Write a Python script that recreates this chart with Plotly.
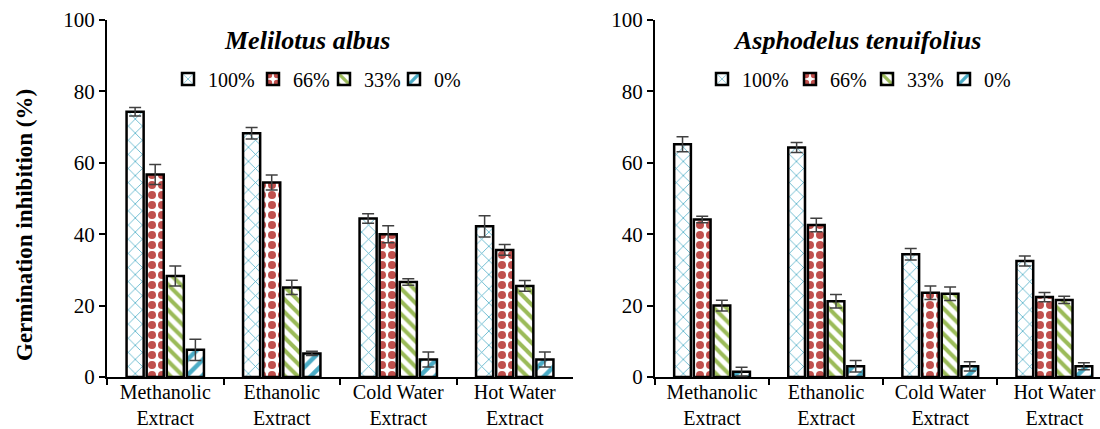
import plotly.graph_objects as go

categories = ["Methanolic<br>Extract", "Ethanolic<br>Extract", "Cold Water<br>Extract", "Hot Water<br>Extract"]
series_names = ["100%", "66%", "33%", "0%"]

# Melilotus albus
mel_100 = [74.3, 68.3, 44.4, 42.2]
mel_66 = [56.7, 54.5, 40.0, 35.6]
mel_33 = [28.3, 25.1, 26.6, 25.5]
mel_0 = [7.6, 6.6, 4.9, 4.9]
mel_100_err = [1.2, 1.6, 1.3, 3.0]
mel_66_err = [2.8, 2.1, 2.4, 1.5]
mel_33_err = [2.8, 2.0, 0.9, 1.5]
mel_0_err = [3.0, 0.6, 2.1, 2.1]

# Asphodelus tenuifolius
asp_100 = [65.2, 64.3, 34.4, 32.5]
asp_66 = [44.1, 42.6, 23.6, 22.4]
asp_33 = [20.0, 21.2, 23.3, 21.6]
asp_0 = [1.5, 3.0, 3.0, 3.0]
asp_100_err = [2.1, 1.4, 1.6, 1.4]
asp_66_err = [0.9, 1.9, 1.9, 1.3]
asp_33_err = [1.5, 1.9, 1.9, 1.0]
asp_0_err = [1.2, 1.6, 1.3, 1.0]

y_ticks = [0, 20, 40, 60, 80, 100]

SERIF = "Liberation Serif, Times New Roman, serif"
styles = [
    dict(shape="x", fg="#4BACC6", size=10, solidity=0.15),
    dict(shape=".", fg="#C0504D", size=10, solidity=0.5),
    dict(shape="\\", fg="#9BBB59", size=9, solidity=0.45),
    dict(shape="/", fg="#4BACC6", size=11, solidity=0.4),
]

# legend entry positions (left edge of each legend box, px)
legend_x_left = [168, 253, 324, 394]
legend_x_right = [702, 790, 867, 944]

fig = go.Figure()

def add_panel(values, errors, xa, ya, legend_ids):
    for name, vals, errs, st, lg in zip(series_names, values, errors, styles, legend_ids):
        fig.add_trace(go.Bar(
            x=categories, y=vals, name=name,
            xaxis=xa, yaxis=ya, legend=lg,
            marker=dict(
                color="white",
                line=dict(color="black", width=2.5),
                pattern=dict(shape=st["shape"], fgcolor=st["fg"], bgcolor="white",
                             size=st["size"], solidity=st["solidity"], fillmode="replace"),
            ),
            error_y=dict(type="data", array=errs, visible=True, color="#404040",
                         thickness=1.5, width=6),
        ))

left_ids = ["legend", "legend2", "legend3", "legend4"]
right_ids = ["legend5", "legend6", "legend7", "legend8"]

add_panel([mel_100, mel_66, mel_33, mel_0],
          [mel_100_err, mel_66_err, mel_33_err, mel_0_err], "x", "y", left_ids)
add_panel([asp_100, asp_66, asp_33, asp_0],
          [asp_100_err, asp_66_err, asp_33_err, asp_0_err], "x2", "y2", right_ids)

xaxis_common = dict(
    type="category", showline=True, linecolor="black", linewidth=2,
    ticks="outside", tickson="boundaries", ticklen=6, tickwidth=2, tickcolor="black",
    tickfont=dict(family=SERIF, size=20, color="black"), showgrid=False,
    automargin=False, ticklabelstandoff=-4,
)
yaxis_common = dict(
    range=[0, 100], tickvals=y_ticks, showline=True, linecolor="black", linewidth=2,
    ticks="outside", ticklen=6, tickwidth=2, tickcolor="black",
    tickfont=dict(family=SERIF, size=21, color="black"), showgrid=False, zeroline=False,
    automargin=False,
)

# plot area spans y pixels 20..377
def py(p):
    return (377 - p) / 357

def legend_at(px):
    return dict(
        x=px / 1100, y=py(79), orientation="h", yanchor="middle", xanchor="left",
        font=dict(family=SERIF, size=20, color="black"),
        bgcolor="rgba(0,0,0,0)", itemwidth=30,
    )

legend_layout = {}
for lid, px in zip(left_ids + right_ids, legend_x_left + legend_x_right):
    legend_layout[lid] = legend_at(px)

fig.update_layout(
    width=1100, height=429,
    margin=dict(l=0, r=0, t=20, b=52),
    paper_bgcolor="white", plot_bgcolor="white",
    barmode="group", bargap=0.31, bargroupgap=0.15,
    xaxis=dict(domain=[107/1100, 573/1100], range=[-0.5, 3.5], **xaxis_common),
    yaxis=dict(anchor="x", **yaxis_common),
    xaxis2=dict(domain=[655/1100, 1.0], range=[-0.5, 3.4], anchor="y2", **xaxis_common),
    yaxis2=dict(anchor="x2", **yaxis_common),
    showlegend=True,
    annotations=[
        dict(text="<b><i>Melilotus albus</i></b>", x=307/1100, y=py(40),
             xref="paper", yref="paper", showarrow=False,
             font=dict(family=SERIF, size=26, color="black"), xanchor="center", yanchor="middle"),
        dict(text="<b><i>Asphodelus tenuifolius</i></b>", x=857/1100, y=py(40),
             xref="paper", yref="paper", showarrow=False,
             font=dict(family=SERIF, size=26, color="black"), xanchor="center", yanchor="middle"),
        dict(text="<b>Germination inhibition (%)</b>", x=25/1100, y=py(225),
             xref="paper", yref="paper", showarrow=False, textangle=-90,
             font=dict(family=SERIF, size=23, color="black"), xanchor="center", yanchor="middle"),
    ],
    **legend_layout,
)

fig.write_html("out.html", config={"displayModeBar": False},
               post_script="document.body.style.margin='0';")
